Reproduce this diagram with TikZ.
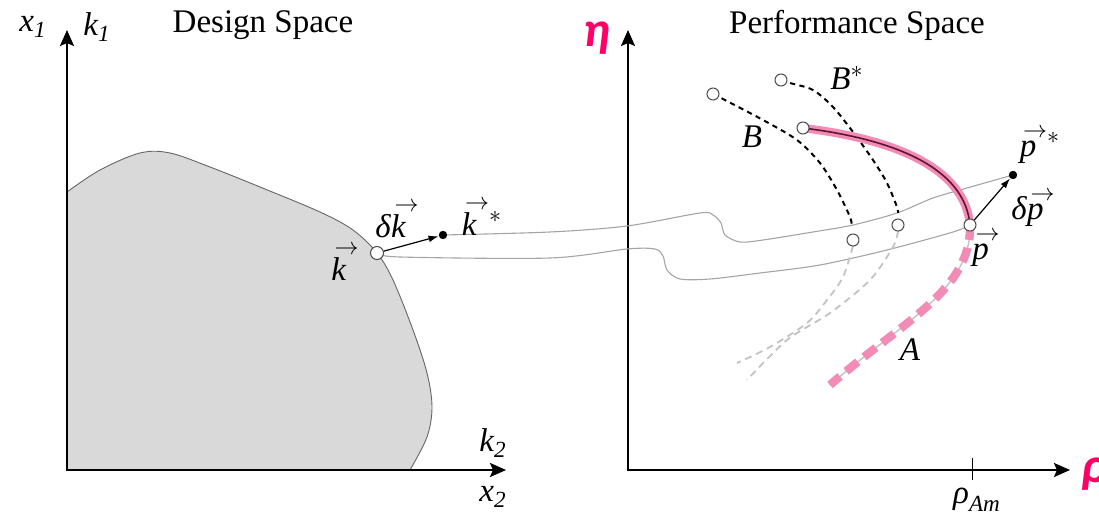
\documentclass[tikz,border=0pt]{standalone}
\usepackage{amsmath}
\usepackage{fontspec}
\setmainfont{Liberation Serif}
\newfontfamily\calib{Carlito}
\usepackage{tikz}
\usetikzlibrary{arrows.meta}

\definecolor{regiongray}{RGB}{217,217,217}
\definecolor{linkgray}{RGB}{165,165,165}
\definecolor{ghostgray}{RGB}{195,195,195}
\definecolor{pinkA}{RGB}{242,140,182}
\definecolor{darkA}{RGB}{95,20,50}
\definecolor{axmag}{RGB}{255,0,102}

\newcommand{\vecarr}[1]{\setbox0\hbox{\textit{#1}}\rlap{\copy0}\hskip0.1em\raise\dimexpr\ht0+0.1em\relax\hbox{$\scriptstyle\rightarrow$}}

\begin{document}
\begin{tikzpicture}[
    x=0.5pt, y=-0.5pt,
    every node/.style={font=\fontsize{16.5}{19}\selectfont},
    lbl/.style={inner sep=1pt},
    axislbl/.style={font=\calib\bfseries\itshape\fontsize{25}{28}\selectfont, text=axmag, inner sep=0pt},
    axis/.style={{Stealth[length=8pt,width=7pt,inset=1.5pt]}-{Stealth[length=8pt,width=7pt,inset=1.5pt]}, line width=1.1pt},
    region/.style={fill=regiongray},
    rim/.style={draw=black!60, line width=0.45pt},
    link/.style={draw=linkgray, line width=0.55pt},
    vec/.style={-{Latex[length=5pt,width=3.4pt]}, line width=0.6pt},
    opendot/.style={circle, draw=black!70, fill=white, line width=0.5pt, inner sep=0pt, minimum size=6pt},
    fulldot/.style={circle, fill=black, inner sep=0pt, minimum size=4.2pt},
    front/.style={dash pattern=on 2.6pt off 2.2pt, line width=1pt},
    ghost/.style={draw=ghostgray, dash pattern=on 3.5pt off 2.5pt, line width=0.9pt},
    paretoA/.style={draw=pinkA, line width=4.2pt},
    paretoAdash/.style={draw=pinkA, line width=4.2pt, dash pattern=on 7.5pt off 4pt}
]
\useasboundingbox (0,0) rectangle (1099,518);

% design space
\coordinate (o1) at (67,470);
\fill[region] (o1) -- plot[smooth, tension=0.55] coordinates {(67,192) (100,170) (140,153) (170,153) (210,167) (260,187) (320,212) (353,230) (377,253) (393,280) (413,330) (427,373) (432,407) (427,437) (410,470)} -- cycle;
\draw[rim] plot[smooth, tension=0.55] coordinates {(67,192) (100,170) (140,153) (170,153) (210,167) (260,187) (320,212) (353,230) (377,253) (393,280) (413,330) (427,373) (432,407) (427,437) (410,470)};
\draw[axis] (67,30) |- (506,470);

\node (x1) at (33,27) {$\textit{x}_{\textit{1}}$};
\node (k1) at (97,27) {$\textit{k}_{\textit{1}}$};
\node (x2) at (493,497) {$\textit{x}_{\textit{2}}$};
\node (k2) at (493,443) {$\textit{k}_{\textit{2}}$};
\node (dtitle) at (263,25) {Design Space};

% performance space
\coordinate (o2) at (628,470);
\draw[axis] (628,30) |- (1070,470);
\draw[line width=0.5pt] (972,458) -- (972,480);
\node[axislbl] (eta) at (597,38) {η};
\node[axislbl, anchor=west] (rho) at (1081,474) {ρ};
\node (rhoAm) at (977,500) {$\textit{ρ}_{\textit{Am}}$};
\node (ptitle) at (857,25) {Performance Space};

\coordinate (kpos) at (377,253);
\coordinate (kstarpos) at (443,235);
\coordinate (ppos) at (970,225);
\coordinate (pstarpos) at (1013,175);
\coordinate (Bpos) at (713,94);
\coordinate (Bspos) at (781,80);
\coordinate (Apos) at (803,128);
\coordinate (gpos) at (853,240);
\coordinate (gspos) at (898,225);

% mapping
\draw[link] plot[smooth, tension=0.5] coordinates {(kstarpos) (550,232) (627,226) (700,213) (713,215) (721,223) (725,235) (740,242) (763,240) (813,232) (853,225) (897,213) (933,198) (967,188) (pstarpos)};
\draw[link] plot[smooth, tension=0.5] coordinates {(kpos) (400,257) (550,258) (627,249) (655,249) (663,256) (667,270) (680,279) (710,279) (760,273) (820,265) (887,250) (953,232) (ppos)};

% fronts
\draw[ghost] plot[smooth] coordinates {(853,246) (843,277) (827,300) (807,323) (770,347) (737,363)};
\draw[ghost] plot[smooth] coordinates {(898,231) (893,247) (870,280) (830,313) (787,340) (747,380)};
\draw[front] plot[smooth] coordinates {(Bpos) (723,99) (763,120) (797,140) (820,163) (837,190) (850,217) (852,227)};
\draw[front] plot[smooth] coordinates {(Bspos) (790,83) (813,90) (833,107) (853,132) (873,160) (887,183) (897,207) (898,213)};

\draw[draw=ghostgray, line width=0.7pt] (ppos) .. controls (972,290) and (902,322) .. (830,385);
\draw[paretoAdash] (ppos) .. controls (972,290) and (902,322) .. (830,385);
\draw[paretoA] (Apos) .. controls (900,140) and (965,170) .. (ppos);
\draw[draw=darkA, line width=0.8pt] (Apos) .. controls (900,140) and (965,170) .. (ppos);

\node[opendot] (B) at (Bpos) {};
\node[opendot] (Bs) at (Bspos) {};
\node[opendot] (A) at (Apos) {};
\node[opendot] (g) at (gpos) {};
\node[opendot] (gs) at (gspos) {};
\node[opendot, minimum size=6.5pt] (k) at (kpos) {};
\node[fulldot] (kstar) at (kstarpos) {};
\node[opendot] (p) at (ppos) {};
\node[fulldot] (pstar) at (pstarpos) {};

\draw[vec] (k) -- (kstar);
\draw[vec] (p) -- (pstar);

\node[lbl] (klbl) at (345,263) {\vecarr{k}};
\node[lbl] (dklbl) at (397,220) {\textit{δ}\vecarr{k}};
\node[lbl] (kslbl) at (482,218) {\vecarr{k}$^{*}$};
\node[lbl] (Blbl) at (752,137) {\textit{B}};
\node[lbl] (Bslbl) at (847,78) {\textit{B}$^{*}$};
\node[lbl] (Albl) at (910,350) {\textit{A}};
\node[lbl] (plbl) at (986,249) {\vecarr{p}};
\node[lbl] (dplbl) at (1033,209) {\textit{δ}\vecarr{p}};
\node[lbl] (pslbl) at (1040,146) {\vecarr{p}$^{*}$};
\end{tikzpicture}
\end{document}
